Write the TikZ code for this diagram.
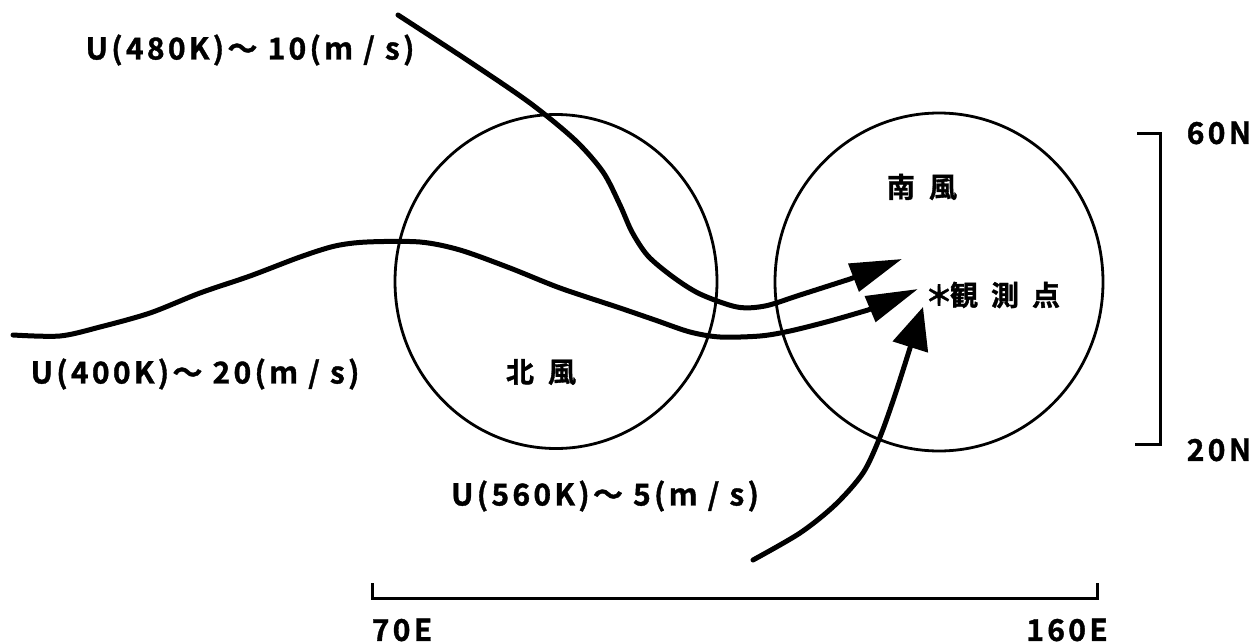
\documentclass[tikz,border=0pt]{standalone}
\usepackage{fontspec}
\setmainfont{Noto Sans CJK JP Bold}
\newfontfamily\lab{Noto Sans CJK JP Bold}[LetterSpace=11,FakeBold=1.2]
\newfontfamily\kan{Noto Sans CJK JP Bold}[FakeBold=1.2]
\usetikzlibrary{arrows.meta,shapes.geometric}
\tikzset{
  ring/.style={draw, ellipse, line width=2.8pt, inner sep=0pt},
  flow/.style={line width=5pt, line cap=round, line join=round},
  bracketline/.style={line width=3pt, line join=miter},
  latin/.style={inner sep=0pt, font=\lab\fontsize{30}{30}\selectfont},
  kanji/.style={inner sep=0pt, font=\kan\fontsize{28}{28}\selectfont},
}
\begin{document}
\begin{tikzpicture}[x=1pt,y=-1pt]
\useasboundingbox (0,0) rectangle (1254,643);
% circles
\node[ring, minimum width=322pt, minimum height=334pt] (north) at (556,281.5) {};
\node[ring, minimum width=328pt, minimum height=338pt] (south) at (939,282) {};
% labels
\node[latin] (l480) at (250,50) {U(480K)～ 10(m / s)};
\node[latin] (l400) at (195,374) {U(400K)～ 20(m / s)};
\node[latin] (l560) at (605,496) {U(560K)～ 5(m / s)};
\node[kanji] (kita) at (541,372) {北\hspace{14pt}風};
\node[kanji] (minami) at (922,187) {南\hspace{14pt}風};
\node[kanji] (obs) at (994,295) {\makebox[22pt][c]{＊}観\hspace{13pt}測\hspace{13pt}点};
\node[latin] (n60) at (1219,133) {60N};
\node[latin] (n20) at (1219,450) {20N};
\node[latin] (e70) at (402,630) {70E};
\node[latin] (e160) at (1067,630) {160E};
% arrow tips
\coordinate (t1) at (902,259);
\coordinate (t2) at (918,289);
\coordinate (t3) at (923,307);
% flows
\draw[flow, -{Triangle[length=52pt,width=29pt]}] plot[smooth, tension=0.5] coordinates {(398,15) (470,62) (530,103) (575,140) (603,172) (620,205) (632,232) (648,256) (673,277) (700,294) (737,307) (765,306) (800,295) (850,279)} -- (t1);
\draw[flow, -{Triangle[length=52pt,width=27pt]}] plot[smooth, tension=0.5] coordinates {(13,335) (60,336) (100,327) (150,313) (200,293) (250,276) (300,257) (335,246) (367,242) (420,242) (460,250) (510,268) (560,288) (620,308) (655,320) (690,332) (720,337) (760,336) (790,331) (830,321) (868,310)} -- (t2);
\draw[flow, -{Triangle[length=42pt,width=36pt]}] plot[smooth, tension=0.5] coordinates {(753,560) (800,533) (835,505) (863,473) (880,437) (895,395) (910,348)} -- (t3);
% scale brackets
\coordinate (a1) at (1137,133);
\coordinate (a2) at (1160,133);
\coordinate (a3) at (1160,444);
\coordinate (a4) at (1135,444);
\draw[bracketline] (a1) -- (a2) -- (a3) -- (a4);
\coordinate (b1) at (372,583);
\coordinate (b2) at (372,598);
\coordinate (b3) at (1097,598);
\coordinate (b4) at (1097,583);
\draw[bracketline] (b1) -- (b2) -- (b3) -- (b4);
\end{tikzpicture}
\end{document}
